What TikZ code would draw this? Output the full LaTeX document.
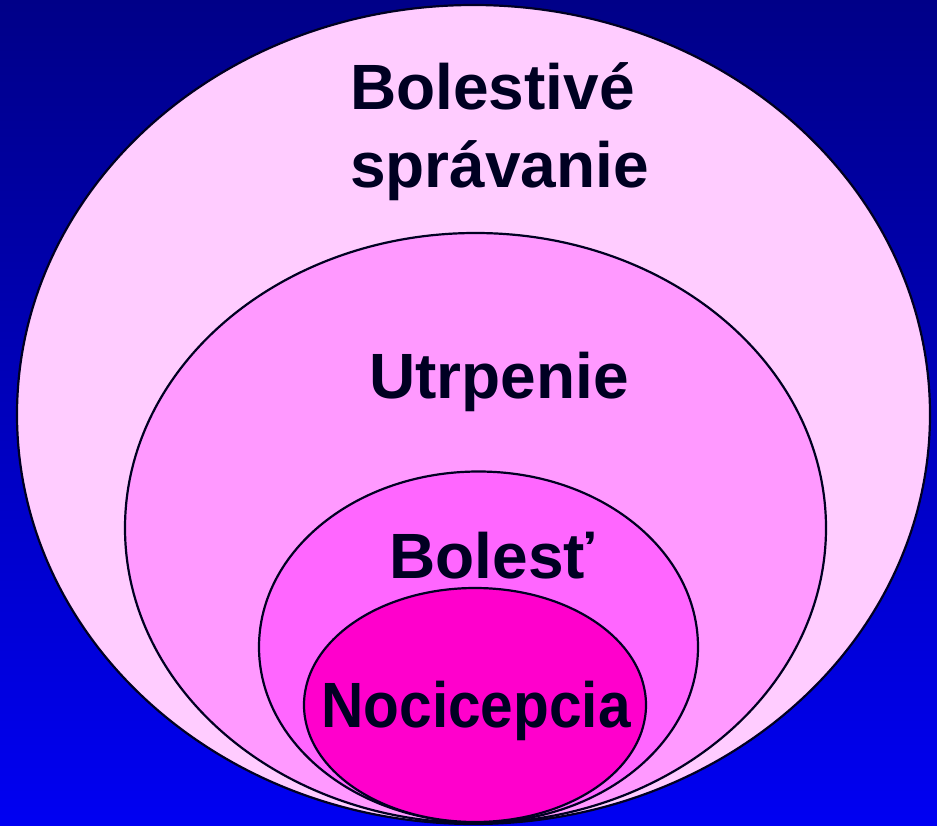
\documentclass[tikz,border=0pt]{standalone}
\usepackage{fontspec}
\setmainfont{Liberation Sans}
\usetikzlibrary{shapes.geometric}
\definecolor{bgtop}{HTML}{000088}
\definecolor{bgbottom}{HTML}{0000F2}
\definecolor{ringA}{HTML}{FFCCFF}
\definecolor{ringB}{HTML}{FF99FF}
\definecolor{ringC}{HTML}{FF66FF}
\definecolor{ringD}{HTML}{FF00CC}
\definecolor{inkdark}{HTML}{000022}
\tikzset{
  ring/.style={ellipse, draw=inkdark, line width=2.2pt, inner sep=0pt},
  label/.style={font=\fontsize{64}{78}\selectfont\bfseries, text=inkdark, align=center}
}
\begin{document}
\begin{tikzpicture}[x=1pt, y=-1pt]
  % background
  \shade[top color=bgtop, bottom color=bgbottom] (0,0) rectangle (937,826);
  \useasboundingbox (0,0) rectangle (937,826);
  % nested sets
  \node[ring, fill=ringA, minimum width=913pt, minimum height=819pt] (behaviour) at (473.5,414.5) {};
  \node[ring, fill=ringB, minimum width=701pt, minimum height=590pt] (suffering) at (475.5,528) {};
  \node[ring, fill=ringC, minimum width=439pt, minimum height=351pt] (pain) at (478.5,647) {};
  \node[ring, fill=ringD, minimum width=342pt, minimum height=234pt] (nociception) at (475,705) {};
  % labels
  \node[label, align=left, inner sep=0pt, anchor=base west] (behaviourtext) at (350,188) {Bolestivé\\správanie};
  \node[label, anchor=base] (sufferingtext) at (499,398) {Utrpenie};
  \node[label, anchor=base] (paintext) at (492,578) {Bolesť};
  \node[label, anchor=base, xscale=0.915] (nociceptiontext) at (476,727) {Nocicepcia};
\end{tikzpicture}
\end{document}
